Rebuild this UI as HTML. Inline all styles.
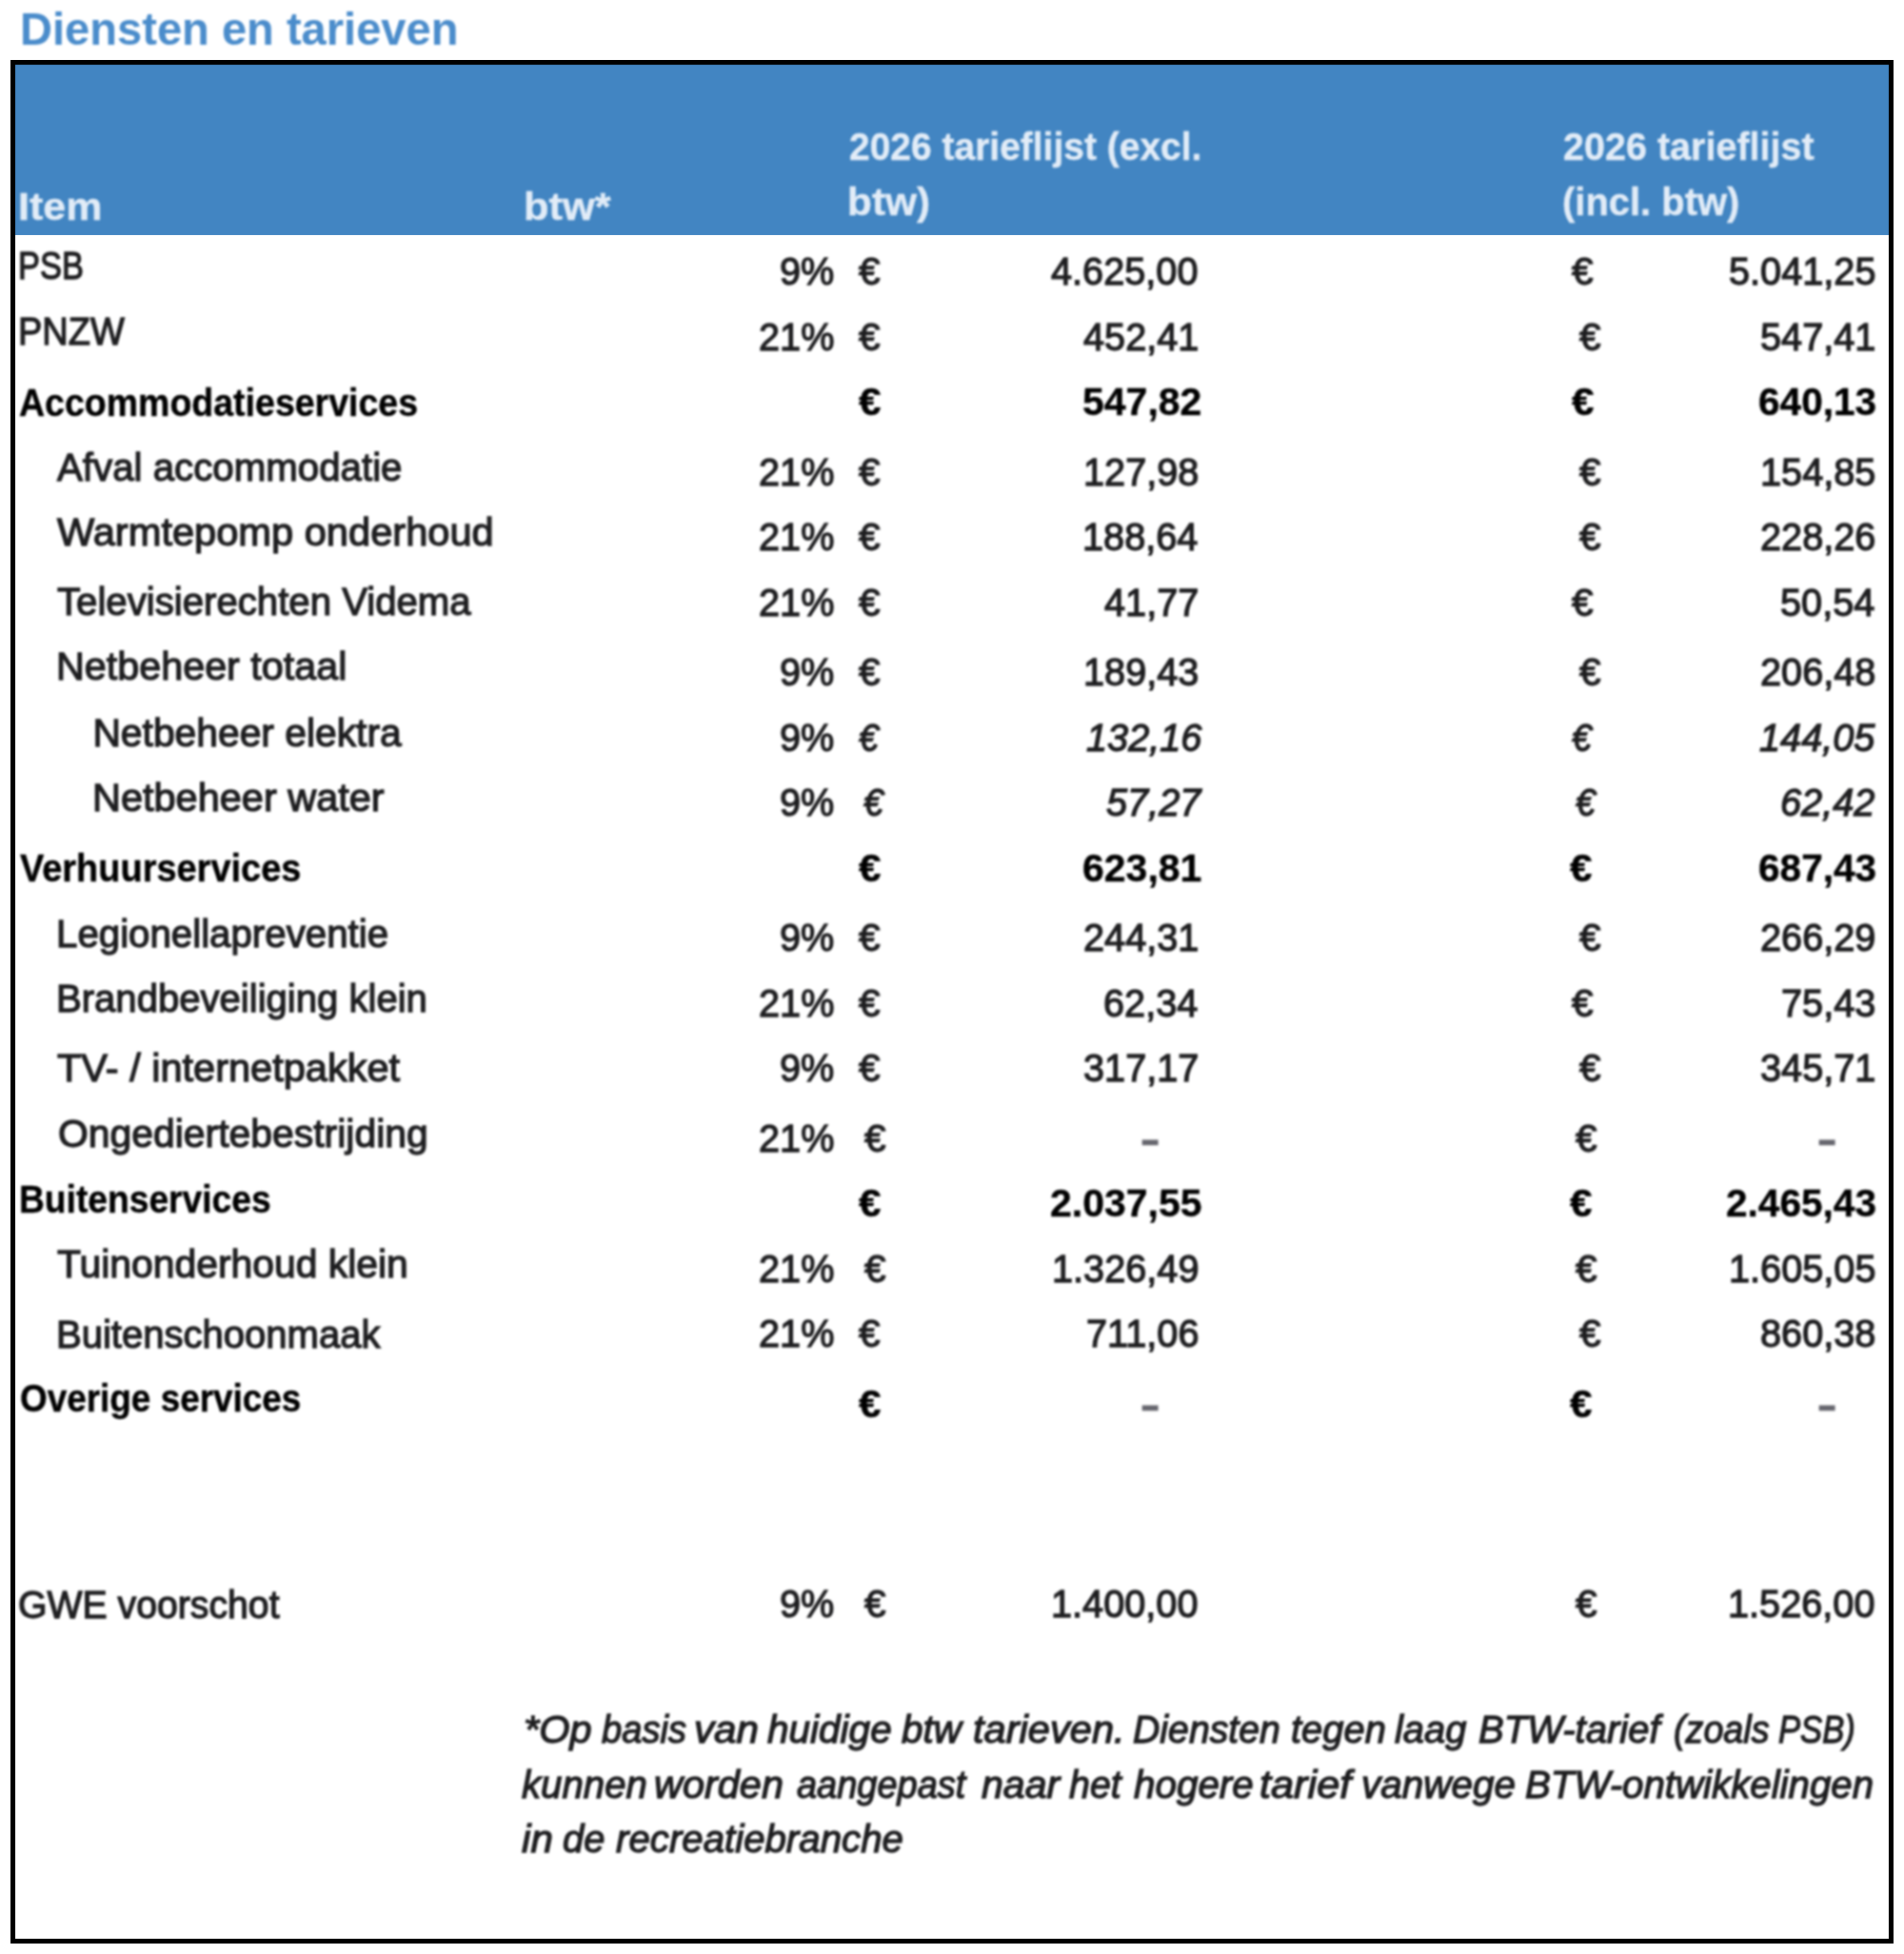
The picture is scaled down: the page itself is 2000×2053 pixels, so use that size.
<!DOCTYPE html>
<html lang="nl"><head><meta charset="utf-8"><title>Diensten en tarieven</title>
<style>
html,body{margin:0;padding:0;background:#fff;}
body{width:2000px;height:2053px;position:relative;overflow:hidden;font-family:"Liberation Sans", Arial, sans-serif;}
#box{position:absolute;left:11px;top:63px;width:1968px;height:1969px;border:5px solid #000;box-sizing:content-box;background:#fff;}
#hdr{position:absolute;left:16px;top:68px;width:1968px;height:178.6px;background:#4285c2;}
.t{position:absolute;white-space:nowrap;transform-origin:0 0;display:block;}
#txt{filter:blur(1.3px);}
</style></head><body>
<div id="box"></div><div id="hdr"></div>
<div id="txt">
<div class="title">
<span class="t" style="left:20.53px;top:1.90px;font-size:47.5px;line-height:57px;color:#4a8ccb;font-weight:700;transform:scaleX(0.9911);">Diensten en tarieven</span>
</div>
<div class="thead">
<span class="t" style="left:18.89px;top:193.30px;font-size:40.8px;line-height:49px;color:#e2ecf7;font-weight:700;-webkit-text-stroke:0.4px;transform:scaleX(1.0551);">Item</span>
<span class="t" style="left:549.87px;top:192.80px;font-size:40.8px;line-height:49px;color:#e2ecf7;font-weight:700;-webkit-text-stroke:0.4px;transform:scaleX(1.0660);">btw*</span>
<span class="t" style="left:891.54px;top:129.60px;font-size:40.8px;line-height:49px;color:#e2ecf7;font-weight:700;-webkit-text-stroke:0.4px;transform:scaleX(0.9551);">2026 tarieflijst (excl.</span>
<span class="t" style="left:890.42px;top:187.80px;font-size:40.8px;line-height:49px;color:#e2ecf7;font-weight:700;-webkit-text-stroke:0.4px;transform:scaleX(1.0394);">btw)</span>
<span class="t" style="left:1641.73px;top:129.60px;font-size:40.8px;line-height:49px;color:#e2ecf7;font-weight:700;-webkit-text-stroke:0.4px;transform:scaleX(0.9689);">2026 tarieflijst</span>
<span class="t" style="left:1640.74px;top:187.80px;font-size:40.8px;line-height:49px;color:#e2ecf7;font-weight:700;-webkit-text-stroke:0.4px;transform:scaleX(0.9787);">(incl. btw)</span>
</div>
<div class="row">
<span class="t" style="left:18.87px;top:255.40px;font-size:40.8px;line-height:49px;color:#1e1e20;-webkit-text-stroke:1.3px;transform:scaleX(0.8434);">PSB</span>
<span class="t" style="left:819.37px;top:261.00px;font-size:40.8px;line-height:49px;color:#1e1e20;-webkit-text-stroke:1.3px;transform:scaleX(0.9730);">9%</span>
<span class="t" style="left:901.70px;top:261.00px;font-size:40.8px;line-height:49px;color:#1e1e20;-webkit-text-stroke:1.3px;transform:scaleX(0.9913);">€</span>
<span class="t" style="left:1650.50px;top:261.00px;font-size:40.8px;line-height:49px;color:#1e1e20;-webkit-text-stroke:1.3px;transform:scaleX(0.9913);">€</span>
<span class="t" style="left:1104.25px;top:261.00px;font-size:40.8px;line-height:49px;color:#1e1e20;-webkit-text-stroke:1.3px;transform:scaleX(0.9730);">4.625,00</span>
<span class="t" style="left:1816.03px;top:261.00px;font-size:40.8px;line-height:49px;color:#1e1e20;-webkit-text-stroke:1.3px;transform:scaleX(0.9730);">5.041,25</span>
</div>
<div class="row">
<span class="t" style="left:18.61px;top:324.10px;font-size:40.8px;line-height:49px;color:#1e1e20;-webkit-text-stroke:1.3px;transform:scaleX(0.9303);">PNZW</span>
<span class="t" style="left:797.29px;top:329.70px;font-size:40.8px;line-height:49px;color:#1e1e20;-webkit-text-stroke:1.3px;transform:scaleX(0.9730);">21%</span>
<span class="t" style="left:901.70px;top:329.70px;font-size:40.8px;line-height:49px;color:#1e1e20;-webkit-text-stroke:1.3px;transform:scaleX(0.9913);">€</span>
<span class="t" style="left:1659.30px;top:329.70px;font-size:40.8px;line-height:49px;color:#1e1e20;-webkit-text-stroke:1.3px;transform:scaleX(0.9913);">€</span>
<span class="t" style="left:1138.33px;top:329.70px;font-size:40.8px;line-height:49px;color:#1e1e20;-webkit-text-stroke:1.3px;transform:scaleX(0.9730);">452,41</span>
<span class="t" style="left:1849.13px;top:329.70px;font-size:40.8px;line-height:49px;color:#1e1e20;-webkit-text-stroke:1.3px;transform:scaleX(0.9730);">547,41</span>
</div>
<div class="row">
<span class="t" style="left:19.58px;top:398.80px;font-size:40.8px;line-height:49px;color:#000000;font-weight:700;-webkit-text-stroke:0.4px;transform:scaleX(0.9194);">Accommodatieservices</span>
<span class="t" style="left:901.70px;top:398.40px;font-size:40.8px;line-height:49px;color:#000000;font-weight:700;-webkit-text-stroke:0.4px;transform:scaleX(1.0364);">€</span>
<span class="t" style="left:1650.50px;top:398.40px;font-size:40.8px;line-height:49px;color:#000000;font-weight:700;-webkit-text-stroke:0.4px;transform:scaleX(1.0364);">€</span>
<span class="t" style="left:1136.79px;top:398.40px;font-size:40.8px;line-height:49px;color:#000000;font-weight:700;-webkit-text-stroke:0.4px;transform:scaleX(1.0050);">547,82</span>
<span class="t" style="left:1846.93px;top:398.40px;font-size:40.8px;line-height:49px;color:#000000;font-weight:700;-webkit-text-stroke:0.4px;transform:scaleX(0.9950);">640,13</span>
</div>
<div class="row">
<span class="t" style="left:59.90px;top:466.50px;font-size:40.8px;line-height:49px;color:#1e1e20;-webkit-text-stroke:1.3px;transform:scaleX(0.9868);">Afval accommodatie</span>
<span class="t" style="left:797.29px;top:471.50px;font-size:40.8px;line-height:49px;color:#1e1e20;-webkit-text-stroke:1.3px;transform:scaleX(0.9730);">21%</span>
<span class="t" style="left:901.70px;top:471.50px;font-size:40.8px;line-height:49px;color:#1e1e20;-webkit-text-stroke:1.3px;transform:scaleX(0.9913);">€</span>
<span class="t" style="left:1659.30px;top:471.50px;font-size:40.8px;line-height:49px;color:#1e1e20;-webkit-text-stroke:1.3px;transform:scaleX(0.9913);">€</span>
<span class="t" style="left:1138.33px;top:471.50px;font-size:40.8px;line-height:49px;color:#1e1e20;-webkit-text-stroke:1.3px;transform:scaleX(0.9730);">127,98</span>
<span class="t" style="left:1849.13px;top:471.50px;font-size:40.8px;line-height:49px;color:#1e1e20;-webkit-text-stroke:1.3px;transform:scaleX(0.9730);">154,85</span>
</div>
<div class="row">
<span class="t" style="left:59.90px;top:535.20px;font-size:40.8px;line-height:49px;color:#1e1e20;-webkit-text-stroke:1.3px;transform:scaleX(1.0199);">Warmtepomp onderhoud</span>
<span class="t" style="left:797.29px;top:540.20px;font-size:40.8px;line-height:49px;color:#1e1e20;-webkit-text-stroke:1.3px;transform:scaleX(0.9730);">21%</span>
<span class="t" style="left:901.70px;top:540.20px;font-size:40.8px;line-height:49px;color:#1e1e20;-webkit-text-stroke:1.3px;transform:scaleX(0.9913);">€</span>
<span class="t" style="left:1659.30px;top:540.20px;font-size:40.8px;line-height:49px;color:#1e1e20;-webkit-text-stroke:1.3px;transform:scaleX(0.9913);">€</span>
<span class="t" style="left:1137.36px;top:540.20px;font-size:40.8px;line-height:49px;color:#1e1e20;-webkit-text-stroke:1.3px;transform:scaleX(0.9730);">188,64</span>
<span class="t" style="left:1849.13px;top:540.20px;font-size:40.8px;line-height:49px;color:#1e1e20;-webkit-text-stroke:1.3px;transform:scaleX(0.9730);">228,26</span>
</div>
<div class="row">
<span class="t" style="left:59.90px;top:608.30px;font-size:40.8px;line-height:49px;color:#1e1e20;-webkit-text-stroke:1.3px;transform:scaleX(0.9845);">Televisierechten Videma</span>
<span class="t" style="left:797.29px;top:608.60px;font-size:40.8px;line-height:49px;color:#1e1e20;-webkit-text-stroke:1.3px;transform:scaleX(0.9730);">21%</span>
<span class="t" style="left:901.70px;top:608.60px;font-size:40.8px;line-height:49px;color:#1e1e20;-webkit-text-stroke:1.3px;transform:scaleX(0.9913);">€</span>
<span class="t" style="left:1650.50px;top:608.60px;font-size:40.8px;line-height:49px;color:#1e1e20;-webkit-text-stroke:1.3px;transform:scaleX(0.9913);">€</span>
<span class="t" style="left:1160.41px;top:608.60px;font-size:40.8px;line-height:49px;color:#1e1e20;-webkit-text-stroke:1.3px;transform:scaleX(0.9730);">41,77</span>
<span class="t" style="left:1870.24px;top:608.60px;font-size:40.8px;line-height:49px;color:#1e1e20;-webkit-text-stroke:1.3px;transform:scaleX(0.9730);">50,54</span>
</div>
<div class="row">
<span class="t" style="left:59.16px;top:676.10px;font-size:40.8px;line-height:49px;color:#1e1e20;-webkit-text-stroke:1.3px;transform:scaleX(1.0122);">Netbeheer totaal</span>
<span class="t" style="left:819.37px;top:682.00px;font-size:40.8px;line-height:49px;color:#1e1e20;-webkit-text-stroke:1.3px;transform:scaleX(0.9730);">9%</span>
<span class="t" style="left:901.70px;top:682.00px;font-size:40.8px;line-height:49px;color:#1e1e20;-webkit-text-stroke:1.3px;transform:scaleX(0.9913);">€</span>
<span class="t" style="left:1659.30px;top:682.00px;font-size:40.8px;line-height:49px;color:#1e1e20;-webkit-text-stroke:1.3px;transform:scaleX(0.9913);">€</span>
<span class="t" style="left:1138.33px;top:682.00px;font-size:40.8px;line-height:49px;color:#1e1e20;-webkit-text-stroke:1.3px;transform:scaleX(0.9730);">189,43</span>
<span class="t" style="left:1849.13px;top:682.00px;font-size:40.8px;line-height:49px;color:#1e1e20;-webkit-text-stroke:1.3px;transform:scaleX(0.9730);">206,48</span>
</div>
<div class="row">
<span class="t" style="left:97.40px;top:745.80px;font-size:40.8px;line-height:49px;color:#1e1e20;-webkit-text-stroke:1.3px;">Netbeheer elektra</span>
<span class="t" style="left:819.37px;top:750.70px;font-size:40.8px;line-height:49px;color:#1e1e20;-webkit-text-stroke:1.3px;transform:scaleX(0.9730);">9%</span>
<span class="t" style="left:901.70px;top:750.70px;font-size:40.8px;line-height:49px;color:#1e1e20;font-style:italic;-webkit-text-stroke:1.3px;transform:scaleX(0.9120);">€</span>
<span class="t" style="left:1650.50px;top:750.70px;font-size:40.8px;line-height:49px;color:#1e1e20;font-style:italic;-webkit-text-stroke:1.3px;transform:scaleX(0.9120);">€</span>
<span class="t" style="left:1140.79px;top:750.70px;font-size:40.8px;line-height:49px;color:#1e1e20;font-style:italic;-webkit-text-stroke:1.3px;transform:scaleX(0.9730);">132,16</span>
<span class="t" style="left:1847.79px;top:750.70px;font-size:40.8px;line-height:49px;color:#1e1e20;font-style:italic;-webkit-text-stroke:1.3px;transform:scaleX(0.9730);">144,05</span>
</div>
<div class="row">
<span class="t" style="left:97.35px;top:814.20px;font-size:40.8px;line-height:49px;color:#1e1e20;-webkit-text-stroke:1.3px;transform:scaleX(1.0167);">Netbeheer water</span>
<span class="t" style="left:819.37px;top:819.10px;font-size:40.8px;line-height:49px;color:#1e1e20;-webkit-text-stroke:1.3px;transform:scaleX(0.9730);">9%</span>
<span class="t" style="left:906.50px;top:819.10px;font-size:40.8px;line-height:49px;color:#1e1e20;font-style:italic;-webkit-text-stroke:1.3px;transform:scaleX(0.9120);">€</span>
<span class="t" style="left:1655.20px;top:819.10px;font-size:40.8px;line-height:49px;color:#1e1e20;font-style:italic;-webkit-text-stroke:1.3px;transform:scaleX(0.9120);">€</span>
<span class="t" style="left:1161.89px;top:819.10px;font-size:40.8px;line-height:49px;color:#1e1e20;font-style:italic;-webkit-text-stroke:1.3px;transform:scaleX(0.9730);">57,27</span>
<span class="t" style="left:1869.86px;top:819.10px;font-size:40.8px;line-height:49px;color:#1e1e20;font-style:italic;-webkit-text-stroke:1.3px;transform:scaleX(0.9730);">62,42</span>
</div>
<div class="row">
<span class="t" style="left:20.50px;top:888.20px;font-size:40.8px;line-height:49px;color:#000000;font-weight:700;-webkit-text-stroke:0.4px;transform:scaleX(0.9302);">Verhuurservices</span>
<span class="t" style="left:901.70px;top:887.50px;font-size:40.8px;line-height:49px;color:#000000;font-weight:700;-webkit-text-stroke:0.4px;transform:scaleX(1.0364);">€</span>
<span class="t" style="left:1648.90px;top:887.50px;font-size:40.8px;line-height:49px;color:#000000;font-weight:700;-webkit-text-stroke:0.4px;transform:scaleX(1.0364);">€</span>
<span class="t" style="left:1136.79px;top:887.50px;font-size:40.8px;line-height:49px;color:#000000;font-weight:700;-webkit-text-stroke:0.4px;transform:scaleX(1.0050);">623,81</span>
<span class="t" style="left:1846.93px;top:887.50px;font-size:40.8px;line-height:49px;color:#000000;font-weight:700;-webkit-text-stroke:0.4px;transform:scaleX(0.9950);">687,43</span>
</div>
<div class="row">
<span class="t" style="left:59.24px;top:956.60px;font-size:40.8px;line-height:49px;color:#1e1e20;-webkit-text-stroke:1.3px;transform:scaleX(0.9864);">Legionellapreventie</span>
<span class="t" style="left:819.37px;top:960.90px;font-size:40.8px;line-height:49px;color:#1e1e20;-webkit-text-stroke:1.3px;transform:scaleX(0.9730);">9%</span>
<span class="t" style="left:901.70px;top:960.90px;font-size:40.8px;line-height:49px;color:#1e1e20;-webkit-text-stroke:1.3px;transform:scaleX(0.9913);">€</span>
<span class="t" style="left:1659.30px;top:960.90px;font-size:40.8px;line-height:49px;color:#1e1e20;-webkit-text-stroke:1.3px;transform:scaleX(0.9913);">€</span>
<span class="t" style="left:1138.33px;top:960.90px;font-size:40.8px;line-height:49px;color:#1e1e20;-webkit-text-stroke:1.3px;transform:scaleX(0.9730);">244,31</span>
<span class="t" style="left:1849.13px;top:960.90px;font-size:40.8px;line-height:49px;color:#1e1e20;-webkit-text-stroke:1.3px;transform:scaleX(0.9730);">266,29</span>
</div>
<div class="row">
<span class="t" style="left:59.25px;top:1024.70px;font-size:40.8px;line-height:49px;color:#1e1e20;-webkit-text-stroke:1.3px;transform:scaleX(0.9824);">Brandbeveiliging klein</span>
<span class="t" style="left:797.29px;top:1029.60px;font-size:40.8px;line-height:49px;color:#1e1e20;-webkit-text-stroke:1.3px;transform:scaleX(0.9730);">21%</span>
<span class="t" style="left:901.70px;top:1029.60px;font-size:40.8px;line-height:49px;color:#1e1e20;-webkit-text-stroke:1.3px;transform:scaleX(0.9913);">€</span>
<span class="t" style="left:1650.50px;top:1029.60px;font-size:40.8px;line-height:49px;color:#1e1e20;-webkit-text-stroke:1.3px;transform:scaleX(0.9913);">€</span>
<span class="t" style="left:1159.44px;top:1029.60px;font-size:40.8px;line-height:49px;color:#1e1e20;-webkit-text-stroke:1.3px;transform:scaleX(0.9730);">62,34</span>
<span class="t" style="left:1871.21px;top:1029.60px;font-size:40.8px;line-height:49px;color:#1e1e20;-webkit-text-stroke:1.3px;transform:scaleX(0.9730);">75,43</span>
</div>
<div class="row">
<span class="t" style="left:59.90px;top:1098.40px;font-size:40.8px;line-height:49px;color:#1e1e20;-webkit-text-stroke:1.3px;transform:scaleX(1.0180);">TV- / internetpakket</span>
<span class="t" style="left:819.37px;top:1098.10px;font-size:40.8px;line-height:49px;color:#1e1e20;-webkit-text-stroke:1.3px;transform:scaleX(0.9730);">9%</span>
<span class="t" style="left:901.70px;top:1098.10px;font-size:40.8px;line-height:49px;color:#1e1e20;-webkit-text-stroke:1.3px;transform:scaleX(0.9913);">€</span>
<span class="t" style="left:1659.30px;top:1098.10px;font-size:40.8px;line-height:49px;color:#1e1e20;-webkit-text-stroke:1.3px;transform:scaleX(0.9913);">€</span>
<span class="t" style="left:1138.33px;top:1098.10px;font-size:40.8px;line-height:49px;color:#1e1e20;-webkit-text-stroke:1.3px;transform:scaleX(0.9730);">317,17</span>
<span class="t" style="left:1849.13px;top:1098.10px;font-size:40.8px;line-height:49px;color:#1e1e20;-webkit-text-stroke:1.3px;transform:scaleX(0.9730);">345,71</span>
</div>
<div class="row">
<span class="t" style="left:60.50px;top:1167.10px;font-size:40.8px;line-height:49px;color:#1e1e20;-webkit-text-stroke:1.3px;transform:scaleX(1.0023);">Ongediertebestrijding</span>
<span class="t" style="left:797.29px;top:1171.50px;font-size:40.8px;line-height:49px;color:#1e1e20;-webkit-text-stroke:1.3px;transform:scaleX(0.9730);">21%</span>
<span class="t" style="left:907.50px;top:1171.50px;font-size:40.8px;line-height:49px;color:#1e1e20;-webkit-text-stroke:1.3px;transform:scaleX(0.9913);">€</span>
<span class="t" style="left:1655.20px;top:1171.50px;font-size:40.8px;line-height:49px;color:#1e1e20;-webkit-text-stroke:1.3px;transform:scaleX(0.9913);">€</span>
<span class="t" style="left:1199.15px;top:1172.50px;font-size:40.8px;line-height:49px;color:#66666e;-webkit-text-stroke:2.6px;transform:scaleX(1.3455);">-</span>
<span class="t" style="left:1909.65px;top:1172.50px;font-size:40.8px;line-height:49px;color:#66666e;-webkit-text-stroke:2.6px;transform:scaleX(1.3455);">-</span>
</div>
<div class="row">
<span class="t" style="left:19.58px;top:1235.90px;font-size:40.8px;line-height:49px;color:#000000;font-weight:700;-webkit-text-stroke:0.4px;transform:scaleX(0.9118);">Buitenservices</span>
<span class="t" style="left:901.70px;top:1240.20px;font-size:40.8px;line-height:49px;color:#000000;font-weight:700;-webkit-text-stroke:0.4px;transform:scaleX(1.0364);">€</span>
<span class="t" style="left:1648.90px;top:1240.20px;font-size:40.8px;line-height:49px;color:#000000;font-weight:700;-webkit-text-stroke:0.4px;transform:scaleX(1.0364);">€</span>
<span class="t" style="left:1102.59px;top:1240.20px;font-size:40.8px;line-height:49px;color:#000000;font-weight:700;-webkit-text-stroke:0.4px;transform:scaleX(1.0050);">2.037,55</span>
<span class="t" style="left:1813.07px;top:1240.20px;font-size:40.8px;line-height:49px;color:#000000;font-weight:700;-webkit-text-stroke:0.4px;transform:scaleX(0.9950);">2.465,43</span>
</div>
<div class="row">
<span class="t" style="left:59.90px;top:1303.60px;font-size:40.8px;line-height:49px;color:#1e1e20;-webkit-text-stroke:1.3px;transform:scaleX(1.0016);">Tuinonderhoud klein</span>
<span class="t" style="left:797.29px;top:1308.60px;font-size:40.8px;line-height:49px;color:#1e1e20;-webkit-text-stroke:1.3px;transform:scaleX(0.9730);">21%</span>
<span class="t" style="left:907.50px;top:1308.60px;font-size:40.8px;line-height:49px;color:#1e1e20;-webkit-text-stroke:1.3px;transform:scaleX(0.9913);">€</span>
<span class="t" style="left:1655.20px;top:1308.60px;font-size:40.8px;line-height:49px;color:#1e1e20;-webkit-text-stroke:1.3px;transform:scaleX(0.9913);">€</span>
<span class="t" style="left:1105.23px;top:1308.60px;font-size:40.8px;line-height:49px;color:#1e1e20;-webkit-text-stroke:1.3px;transform:scaleX(0.9730);">1.326,49</span>
<span class="t" style="left:1816.03px;top:1308.60px;font-size:40.8px;line-height:49px;color:#1e1e20;-webkit-text-stroke:1.3px;transform:scaleX(0.9730);">1.605,05</span>
</div>
<div class="row">
<span class="t" style="left:59.26px;top:1377.70px;font-size:40.8px;line-height:49px;color:#1e1e20;-webkit-text-stroke:1.3px;transform:scaleX(0.9812);">Buitenschoonmaak</span>
<span class="t" style="left:797.29px;top:1377.30px;font-size:40.8px;line-height:49px;color:#1e1e20;-webkit-text-stroke:1.3px;transform:scaleX(0.9730);">21%</span>
<span class="t" style="left:901.70px;top:1377.30px;font-size:40.8px;line-height:49px;color:#1e1e20;-webkit-text-stroke:1.3px;transform:scaleX(0.9913);">€</span>
<span class="t" style="left:1659.30px;top:1377.30px;font-size:40.8px;line-height:49px;color:#1e1e20;-webkit-text-stroke:1.3px;transform:scaleX(0.9913);">€</span>
<span class="t" style="left:1141.28px;top:1377.30px;font-size:40.8px;line-height:49px;color:#1e1e20;-webkit-text-stroke:1.3px;transform:scaleX(0.9730);">711,06</span>
<span class="t" style="left:1849.13px;top:1377.30px;font-size:40.8px;line-height:49px;color:#1e1e20;-webkit-text-stroke:1.3px;transform:scaleX(0.9730);">860,38</span>
</div>
<div class="row">
<span class="t" style="left:20.50px;top:1445.40px;font-size:40.8px;line-height:49px;color:#000000;font-weight:700;-webkit-text-stroke:0.4px;transform:scaleX(0.9042);">Overige services</span>
<span class="t" style="left:901.70px;top:1451.00px;font-size:40.8px;line-height:49px;color:#000000;font-weight:700;-webkit-text-stroke:0.4px;transform:scaleX(1.0364);">€</span>
<span class="t" style="left:1648.90px;top:1451.00px;font-size:40.8px;line-height:49px;color:#000000;font-weight:700;-webkit-text-stroke:0.4px;transform:scaleX(1.0364);">€</span>
<span class="t" style="left:1199.15px;top:1452.00px;font-size:40.8px;line-height:49px;color:#66666e;-webkit-text-stroke:2.6px;transform:scaleX(1.3455);">-</span>
<span class="t" style="left:1909.65px;top:1452.00px;font-size:40.8px;line-height:49px;color:#66666e;-webkit-text-stroke:2.6px;transform:scaleX(1.3455);">-</span>
</div>
<div class="row">
<span class="t" style="left:19.48px;top:1662.00px;font-size:40.8px;line-height:49px;color:#1e1e20;-webkit-text-stroke:1.3px;transform:scaleX(0.9612);">GWE voorschot</span>
<span class="t" style="left:819.37px;top:1661.40px;font-size:40.8px;line-height:49px;color:#1e1e20;-webkit-text-stroke:1.3px;transform:scaleX(0.9730);">9%</span>
<span class="t" style="left:907.50px;top:1661.40px;font-size:40.8px;line-height:49px;color:#1e1e20;-webkit-text-stroke:1.3px;transform:scaleX(0.9913);">€</span>
<span class="t" style="left:1655.20px;top:1661.40px;font-size:40.8px;line-height:49px;color:#1e1e20;-webkit-text-stroke:1.3px;transform:scaleX(0.9913);">€</span>
<span class="t" style="left:1104.25px;top:1661.40px;font-size:40.8px;line-height:49px;color:#1e1e20;-webkit-text-stroke:1.3px;transform:scaleX(0.9730);">1.400,00</span>
<span class="t" style="left:1815.05px;top:1661.40px;font-size:40.8px;line-height:49px;color:#1e1e20;-webkit-text-stroke:1.3px;transform:scaleX(0.9730);">1.526,00</span>
</div>
<div class="note">
<span class="t" style="left:550.46px;top:1792.80px;font-size:40.8px;line-height:49px;color:#1e1e20;font-style:italic;-webkit-text-stroke:1.3px;transform:scaleX(1.0176);">*Op</span>
<span class="t" style="left:631.80px;top:1792.80px;font-size:40.8px;line-height:49px;color:#1e1e20;font-style:italic;-webkit-text-stroke:1.3px;transform:scaleX(0.9342);">basis</span>
<span class="t" style="left:729.23px;top:1792.80px;font-size:40.8px;line-height:49px;color:#1e1e20;font-style:italic;-webkit-text-stroke:1.3px;transform:scaleX(1.0340);">van</span>
<span class="t" style="left:806.00px;top:1792.80px;font-size:40.8px;line-height:49px;color:#1e1e20;font-style:italic;-webkit-text-stroke:1.3px;transform:scaleX(0.9932);">huidige</span>
<span class="t" style="left:946.60px;top:1792.80px;font-size:40.8px;line-height:49px;color:#1e1e20;font-style:italic;-webkit-text-stroke:1.3px;transform:scaleX(0.9905);">btw</span>
<span class="t" style="left:1021.78px;top:1792.80px;font-size:40.8px;line-height:49px;color:#1e1e20;font-style:italic;-webkit-text-stroke:1.3px;transform:scaleX(1.0202);">tarieven.</span>
<span class="t" style="left:1189.74px;top:1792.80px;font-size:40.8px;line-height:49px;color:#1e1e20;font-style:italic;-webkit-text-stroke:1.3px;transform:scaleX(0.9619);">Diensten</span>
<span class="t" style="left:1355.62px;top:1792.80px;font-size:40.8px;line-height:49px;color:#1e1e20;font-style:italic;-webkit-text-stroke:1.3px;transform:scaleX(0.9778);">tegen</span>
<span class="t" style="left:1465.40px;top:1792.80px;font-size:40.8px;line-height:49px;color:#1e1e20;font-style:italic;-webkit-text-stroke:1.3px;transform:scaleX(0.9788);">laag</span>
<span class="t" style="left:1553.02px;top:1792.80px;font-size:40.8px;line-height:49px;color:#1e1e20;font-style:italic;-webkit-text-stroke:1.3px;transform:scaleX(0.9815);">BTW-tarief</span>
<span class="t" style="left:1757.88px;top:1792.80px;font-size:40.8px;line-height:49px;color:#1e1e20;font-style:italic;-webkit-text-stroke:1.3px;transform:scaleX(0.9234);">(zoals</span>
<span class="t" style="left:1867.95px;top:1792.80px;font-size:40.8px;line-height:49px;color:#1e1e20;font-style:italic;-webkit-text-stroke:1.3px;transform:scaleX(0.8485);">PSB)</span>
</div>
<div class="note">
<span class="t" style="left:547.50px;top:1850.80px;font-size:40.8px;line-height:49px;color:#1e1e20;font-style:italic;-webkit-text-stroke:1.3px;transform:scaleX(0.9852);">kunnen</span>
<span class="t" style="left:687.27px;top:1850.80px;font-size:40.8px;line-height:49px;color:#1e1e20;font-style:italic;-webkit-text-stroke:1.3px;transform:scaleX(1.0160);">worden</span>
<span class="t" style="left:837.00px;top:1850.80px;font-size:40.8px;line-height:49px;color:#1e1e20;font-style:italic;-webkit-text-stroke:1.3px;transform:scaleX(0.9302);">aangepast</span>
<span class="t" style="left:1031.40px;top:1850.80px;font-size:40.8px;line-height:49px;color:#1e1e20;font-style:italic;-webkit-text-stroke:1.3px;transform:scaleX(1.0064);">naar</span>
<span class="t" style="left:1122.70px;top:1850.80px;font-size:40.8px;line-height:49px;color:#1e1e20;font-style:italic;-webkit-text-stroke:1.3px;transform:scaleX(0.9644);">het</span>
<span class="t" style="left:1190.70px;top:1850.80px;font-size:40.8px;line-height:49px;color:#1e1e20;font-style:italic;-webkit-text-stroke:1.3px;transform:scaleX(0.9902);">hogere</span>
<span class="t" style="left:1322.54px;top:1850.80px;font-size:40.8px;line-height:49px;color:#1e1e20;font-style:italic;-webkit-text-stroke:1.3px;transform:scaleX(1.0615);">tarief</span>
<span class="t" style="left:1430.42px;top:1850.80px;font-size:40.8px;line-height:49px;color:#1e1e20;font-style:italic;-webkit-text-stroke:1.3px;transform:scaleX(0.9918);">vanwege</span>
<span class="t" style="left:1602.41px;top:1850.80px;font-size:40.8px;line-height:49px;color:#1e1e20;font-style:italic;-webkit-text-stroke:1.3px;transform:scaleX(0.9864);">BTW-ontwikkelingen</span>
</div>
<div class="note">
<span class="t" style="left:547.50px;top:1907.80px;font-size:40.8px;line-height:49px;color:#1e1e20;font-style:italic;-webkit-text-stroke:1.3px;transform:scaleX(1.0345);">in</span>
<span class="t" style="left:591.22px;top:1907.80px;font-size:40.8px;line-height:49px;color:#1e1e20;font-style:italic;-webkit-text-stroke:1.3px;transform:scaleX(0.9796);">de</span>
<span class="t" style="left:646.60px;top:1907.80px;font-size:40.8px;line-height:49px;color:#1e1e20;font-style:italic;-webkit-text-stroke:1.3px;transform:scaleX(0.9860);">recreatiebranche</span>
</div>
</div>
</body></html>
